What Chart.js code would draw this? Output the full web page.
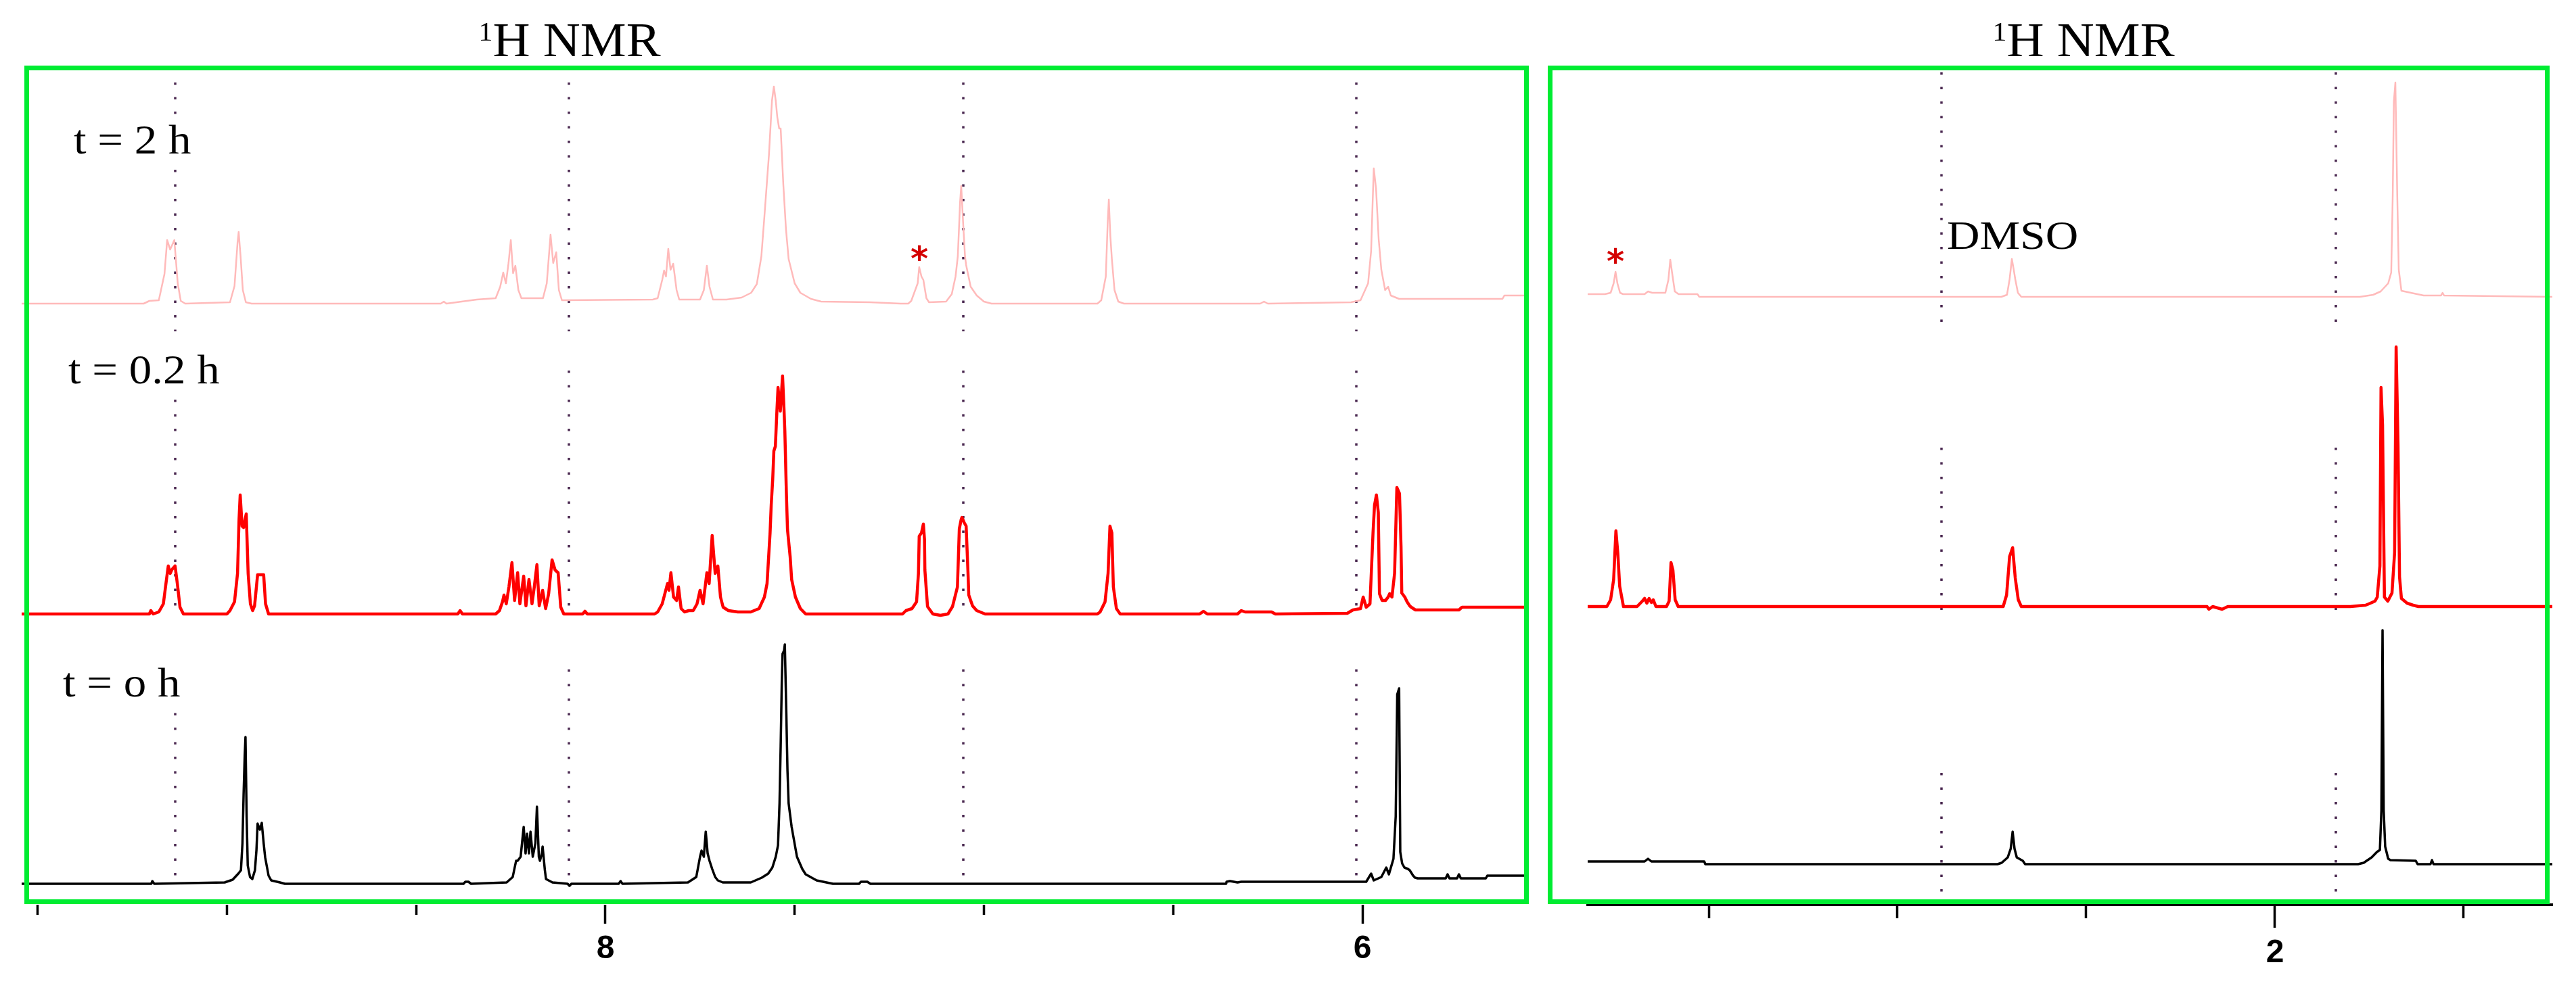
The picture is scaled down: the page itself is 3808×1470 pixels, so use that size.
<!DOCTYPE html>
<html><head><meta charset="utf-8">
<script src="https://cdn.jsdelivr.net/npm/chart.js@4.4.1/dist/chart.umd.min.js"></script>
<style>
html,body{margin:0;padding:0;background:#fff;}
body{width:3808px;height:1470px;position:relative;overflow:hidden;}
canvas{position:absolute;top:0;}
#cL{left:0;} #cR{left:2288px;}
.box{position:absolute;border:7px solid #00ec32;box-sizing:border-box;pointer-events:none;}
.txt{position:absolute;font-family:"Liberation Serif","Times New Roman",serif;color:#000;line-height:1;white-space:nowrap;}
.lab{font-size:62px;transform:scaleX(1.08);transform-origin:left top;background:#fff;}
.ttl{font-size:72px;width:600px;text-align:center;transform:scaleX(1.06);}
.ast{position:absolute;width:60px;text-align:center;font:bold 50px "DejaVu Sans",sans-serif;line-height:1;color:#d40000;}
</style></head><body>
<canvas id="cL" width="2288" height="1470" style="width:2288px;height:1470px"></canvas>
<canvas id="cR" width="1520" height="1470" style="width:1520px;height:1470px"></canvas>
<div class="box" style="left:36px;top:97px;width:2224px;height:1240px"></div>
<div class="box" style="left:2288px;top:97px;width:1481px;height:1240px"></div>
<div class="txt ttl" style="left:542px;top:23px"><span style="font-size:40px;vertical-align:23px">1</span>H NMR</div>
<div class="txt ttl" style="left:2780px;top:23px"><span style="font-size:40px;vertical-align:23px">1</span>H NMR</div>
<div class="txt lab" style="left:109px;top:175px">t = 2 h</div>
<div class="txt lab" style="left:101px;top:515px">t = 0.2 h</div>
<div class="txt lab" style="left:93px;top:978px">t = o h</div>
<div class="txt" style="left:2878px;top:318px;font-size:60px;transform:scaleX(1.12);transform-origin:left top">DMSO</div>
<div class="ast" style="left:1329px;top:358px">*</div>
<div class="ast" style="left:2358px;top:362px">*</div>
<script>
// ---------- data: [chemical shift (ppm), intensity above own baseline] ----------
const PINK_LEFT = [
 [9.5424,0],[9.22,0],[9.205,4],[9.180,5],[9.165,44],[9.158,94],[9.150,80],[9.139,94],[9.130,30],[9.122,4],[9.11,0],
 [8.992,2],[8.980,26],[8.972,90],[8.969,106],[8.964,70],[8.958,20],[8.950,2],[8.935,0],
 [8.435,0],[8.427,3],[8.42,0],[8.340,6],[8.29,8],[8.278,25],[8.270,46],[8.263,30],[8.256,60],[8.250,94],[8.244,45],[8.238,56],[8.230,20],[8.222,8],
 [8.165,8],[8.155,30],[8.145,102],[8.138,60],[8.130,76],[8.123,20],[8.115,5],[7.875,6],
 [7.862,8],[7.850,35],[7.845,49],[7.840,40],[7.834,81],[7.828,50],[7.821,59],[7.812,20],[7.805,6],
 [7.750,6],[7.740,20],[7.732,56],[7.725,25],[7.716,6],
 [7.680,6],[7.640,9],[7.615,16],[7.600,29],[7.588,70],[7.580,129],[7.568,220],[7.560,300],[7.555,321],[7.550,300],[7.546,276],[7.541,259],[7.537,259],[7.530,176],[7.523,110],[7.516,66],[7.500,30],[7.485,16],[7.457,7],[7.43,3],[7.30,2],[7.22,0],
 [7.20,0],[7.192,4],[7.175,30],[7.171,54],[7.165,40],[7.160,35],[7.152,8],[7.145,2],
 [7.10,3],[7.085,14],[7.075,40],[7.069,70],[7.063,150],[7.060,174],[7.055,120],[7.050,70],[7.047,57],[7.035,25],[7.019,12],[7.00,3],[6.98,0],
 [6.70,0],[6.690,5],[6.678,40],[6.673,120],[6.670,154],[6.666,100],[6.662,66],[6.655,20],[6.645,3],[6.63,0],
 [6.27,0],[6.26,3],[6.25,0],
 [6.03,2],[6.005,5],[5.985,30],[5.977,78],[5.973,150],[5.970,200],[5.964,170],[5.957,95],[5.950,50],[5.940,20],[5.932,25],[5.925,12],[5.903,7],[5.63,7],[5.625,12],[5.5675,12]
];
const RED_LEFT = [
 [9.5424,0],[9.205,0],[9.201,5],[9.195,0],
 [9.180,3],[9.168,15],[9.160,50],[9.155,71],[9.150,60],[9.145,66],[9.137,71],[9.130,40],[9.124,10],[9.115,0],
 [9.00,0],[8.992,5],[8.980,18],[8.972,60],[8.968,140],[8.965,176],[8.960,130],[8.956,128],[8.952,140],[8.949,148],[8.944,60],[8.938,15],[8.932,5],[8.927,12],[8.919,58],[8.912,58],[8.903,58],[8.898,15],[8.890,0],
 [8.39,0],[8.384,5],[8.378,0],
 [8.29,0],[8.280,5],[8.272,18],[8.268,28],[8.262,15],[8.255,40],[8.247,76],[8.240,20],[8.232,61],[8.226,15],[8.216,56],[8.210,12],[8.202,51],[8.194,15],[8.188,40],[8.181,73],[8.175,12],[8.166,35],[8.158,8],[8.150,30],[8.141,80],[8.133,65],[8.125,61],[8.118,10],[8.110,0],
 [8.06,0],[8.054,4],[8.048,0],
 [7.87,0],[7.862,3],[7.850,15],[7.836,45],[7.832,35],[7.827,61],[7.820,25],[7.812,20],[7.807,40],[7.800,8],[7.791,3],[7.780,5],
 [7.768,5],[7.758,15],[7.750,35],[7.742,15],[7.732,61],[7.726,45],[7.718,116],[7.710,60],[7.703,71],[7.696,25],[7.689,10],[7.675,5],[7.650,3],
 [7.616,3],[7.594,8],[7.580,25],[7.573,45],[7.565,120],[7.562,161],[7.558,200],[7.555,241],[7.551,248],[7.547,300],[7.544,335],[7.538,300],[7.532,352],[7.528,300],[7.526,271],[7.522,180],[7.519,125],[7.512,85],[7.508,51],[7.498,25],[7.485,8],[7.471,0],
 [7.215,0],[7.206,5],[7.190,8],[7.178,18],[7.173,60],[7.171,115],[7.165,120],[7.160,133],[7.157,110],[7.156,65],[7.149,11],[7.135,0],[7.115,-2],[7.095,0],
 [7.083,11],[7.070,40],[7.065,126],[7.060,140],[7.058,143],[7.052,135],[7.047,130],[7.042,60],[7.040,28],[7.030,12],[7.019,5],[6.997,0],
 [6.70,0],[6.693,3],[6.680,18],[6.672,60],[6.667,130],[6.662,120],[6.658,40],[6.650,8],[6.640,0],
 [6.43,0],[6.42,4],[6.41,0],[6.33,0],[6.32,5],[6.31,3],[6.24,3],[6.23,0],
 [6.04,1],[6.025,6],[6.005,8],[5.998,25],[5.990,10],[5.980,15],[5.972,120],[5.968,161],[5.963,176],[5.958,150],[5.955,30],[5.948,20],[5.939,20],[5.932,25],[5.928,30],[5.922,25],[5.915,60],[5.909,187],[5.902,178],[5.898,100],[5.896,31],[5.888,25],[5.882,18],[5.875,12],[5.871,10],[5.860,6],[5.745,6],[5.737,10],[5.5675,10]
];
const BLACK_LEFT = [
 [9.5424,0],[9.20,0],[9.197,4],[9.192,0],
 [9.006,2],[8.985,6],[8.970,15],[8.963,20],[8.959,60],[8.956,132],[8.953,190],[8.951,217],[8.948,100],[8.945,27],[8.939,10],[8.933,7],[8.926,20],[8.922,50],[8.919,89],[8.913,80],[8.908,90],[8.903,60],[8.899,39],[8.890,12],[8.883,5],[8.860,2],[8.847,0],
 [8.375,0],[8.370,3],[8.362,3],[8.355,0],
 [8.261,2],[8.245,10],[8.236,34],[8.232,34],[8.224,40],[8.216,84],[8.211,45],[8.207,74],[8.202,45],[8.198,77],[8.192,40],[8.185,60],[8.181,114],[8.176,40],[8.173,34],[8.168,45],[8.166,55],[8.160,20],[8.157,7],[8.140,2],[8.10,0],[8.095,-3],[8.09,0],
 [7.965,0],[7.960,4],[7.955,0],
 [7.782,2],[7.760,10],[7.750,40],[7.746,49],[7.740,40],[7.735,77],[7.730,45],[7.725,34],[7.718,22],[7.710,10],[7.703,5],[7.690,2],
 [7.616,2],[7.587,9],[7.570,15],[7.559,24],[7.550,40],[7.544,57],[7.540,120],[7.537,204],[7.534,300],[7.532,340],[7.528,345],[7.526,354],[7.522,250],[7.519,167],[7.516,119],[7.508,84],[7.494,40],[7.480,22],[7.471,14],[7.442,5],[7.399,0],
 [7.33,0],[7.325,3],[7.308,3],[7.300,0],
 [6.36,0],[6.359,3],[6.35,4],[6.33,2],[6.32,3],[6.30,3],
 [5.990,3],[5.977,15],[5.970,5],[5.950,10],[5.937,24],[5.930,14],[5.918,37],[5.912,100],[5.908,280],[5.903,289],[5.900,47],[5.895,30],[5.889,24],[5.880,22],[5.875,20],[5.866,12],[5.861,9],[5.854,8],[5.780,8],[5.775,14],[5.770,8],[5.750,8],[5.745,14],[5.740,8],[5.674,8],[5.670,12],[5.5675,12]
];
const PINK_RIGHT = [
 [3.8208,4],[3.775,4],[3.760,6],[3.752,20],[3.747,37],[3.742,20],[3.735,6],[3.727,4],[3.670,4],[3.661,8],[3.650,6],[3.615,6],[3.607,25],[3.602,55],[3.597,35],[3.590,8],[3.580,4],[3.530,4],[3.525,0],
 [2.725,0],[2.710,3],[2.703,26],[2.697,56],[2.692,40],[2.688,26],[2.681,6],[2.672,0],
 [1.775,0],[1.740,3],[1.720,8],[1.700,20],[1.692,36],[1.688,150],[1.685,289],[1.681,317],[1.676,150],[1.672,40],[1.665,9],[1.640,6],[1.606,2],[1.560,2],[1.556,6],[1.552,2],[1.2652,0]
];
const RED_RIGHT = [
 [3.8208,0],[3.770,0],[3.760,10],[3.752,40],[3.746,112],[3.741,79],[3.736,30],[3.726,0],[3.690,0],[3.676,8],[3.670,12],[3.664,5],[3.658,12],[3.652,6],[3.647,10],[3.640,0],[3.612,0],[3.605,8],[3.600,65],[3.595,54],[3.589,10],[3.581,0],
 [2.720,0],[2.711,17],[2.703,74],[2.695,87],[2.688,42],[2.680,10],[2.672,0],
 [2.180,0],[2.175,-4],[2.165,0],[2.140,-4],[2.125,0],
 [1.80,0],[1.760,2],[1.751,4],[1.735,8],[1.729,14],[1.722,60],[1.719,324],[1.715,269],[1.710,14],[1.701,8],[1.690,20],[1.683,80],[1.679,384],[1.674,240],[1.670,44],[1.665,12],[1.650,5],[1.634,2],[1.62,0],[1.2652,0]
];
const BLACK_RIGHT = [
 [3.8208,4],[3.670,4],[3.661,8],[3.652,4],[3.512,4],[3.509,0],
 [2.735,0],[2.724,2],[2.708,10],[2.700,23],[2.695,48],[2.690,23],[2.684,10],[2.668,5],[2.662,0],
 [1.780,0],[1.765,2],[1.744,10],[1.730,18],[1.722,21],[1.718,80],[1.715,346],[1.712,80],[1.708,26],[1.700,8],[1.694,6],[1.627,5],[1.622,0],[1.588,0],[1.584,6],[1.580,0],[1.2652,0]
];
// reference (dotted) lines, ppm
const GUIDES_LEFT = [9.1367, 8.0965, 7.0545, 6.0161];
const GUIDES_RIGHT = [2.8835, 1.8387];
// axis ticks and labels
const TICKS_LEFT = [9.5, 9, 8.5, 8, 7.5, 7, 6.5, 6];
const LABELS_LEFT = ['', '', '', '8', '', '', '', '6'];
const TICKS_RIGHT = [3.5, 3, 2.5, 2, 1.5];
const LABELS_RIGHT = ['', '', '', '2', ''];
const RANGE_LEFT = [5.5675, 9.5424];
const RANGE_RIGHT = [1.2652, 3.8208];

// ---------- layout / style ----------
const Y_MAX = 1238;
const STACK_LEFT = {pink: 889, red: 430, black: 31};
const STACK_RIGHT = {pink: 899, red: 441, black: 60};
const SEG_LEFT = [[1216, 848], [790, 441], [348, 26]];
const SEG_RIGHT = [[1231, 850], [676, 435], [195, 18]];
const COLORS = {pink: '#ffbaba', red: '#ff0000', black: '#000000', guide: '#4a2850'};

Chart.defaults.font.family = '"Liberation Sans", Arial, sans-serif';

function spectrum(arr, off, color, w) {
  return {data: arr.map(p => ({x: p[0], y: p[1] + off})), borderColor: color, borderWidth: w,
          pointRadius: 0, fill: false, tension: 0, borderJoinStyle: 'round'};
}
function guides(ppms, segs) {
  const out = [];
  ppms.forEach(v => segs.forEach(s => out.push({
    data: [{x: v, y: s[0]}, {x: v, y: s[1]}], borderColor: COLORS.guide, borderWidth: 3.5,
    borderDash: [3.5, 18], pointRadius: 0, fill: false, borderCapStyle: 'butt'})));
  return out;
}
function makeChart(id, c) {
  return new Chart(document.getElementById(id), {
    type: 'line',
    data: {datasets: c.datasets},
    options: {
      responsive: false, animation: false, devicePixelRatio: 1, events: [],
      layout: {padding: {left: c.padL, right: c.padR, top: 100, bottom: 0}},
      plugins: {legend: {display: false}, tooltip: {enabled: false}},
      scales: {
        x: {
          type: 'linear', reverse: true, min: c.range[0], max: c.range[1],
          afterBuildTicks: s => { s.ticks = c.ticks.map(v => ({value: v})); },
          afterFit: s => { s.height = 132; },
          border: {display: c.border, color: '#000', width: 4},
          grid: {display: true, drawOnChartArea: false, drawTicks: true, tickLength: c.tl,
                 tickColor: '#000', tickWidth: 3.5,
                 tickBorderDash: ctx => c.labels[ctx.index] ? [] : [c.minor, 300]},
          ticks: {autoSkip: false, maxRotation: 0, minRotation: 0, padding: c.pad, color: '#000',
                  font: {size: 48, weight: 'bold'}, callback: (v, i) => c.labels[i]}
        },
        y: {display: false, min: 0, max: Y_MAX}
      }
    }
  });
}

makeChart('cL', {
  datasets: [
    spectrum(PINK_LEFT, STACK_LEFT.pink, COLORS.pink, 2.5),
    spectrum(RED_LEFT, STACK_LEFT.red, COLORS.red, 4.5),
    spectrum(BLACK_LEFT, STACK_LEFT.black, COLORS.black, 3.5),
    ...guides(GUIDES_LEFT, SEG_LEFT)
  ],
  range: RANGE_LEFT, ticks: TICKS_LEFT, labels: LABELS_LEFT,
  padL: 32, padR: 32, border: false, tl: 28, minor: 15, pad: 9
});
makeChart('cR', {
  datasets: [
    spectrum(PINK_RIGHT, STACK_RIGHT.pink, COLORS.pink, 2.5),
    spectrum(RED_RIGHT, STACK_RIGHT.red, COLORS.red, 4.5),
    spectrum(BLACK_RIGHT, STACK_RIGHT.black, COLORS.black, 3.5),
    ...guides(GUIDES_RIGHT, SEG_RIGHT)
  ],
  range: RANGE_RIGHT, ticks: TICKS_RIGHT, labels: LABELS_RIGHT,
  padL: 59, padR: 35, border: true, tl: 34, minor: 18, pad: 9
});
</script>
</body></html>
